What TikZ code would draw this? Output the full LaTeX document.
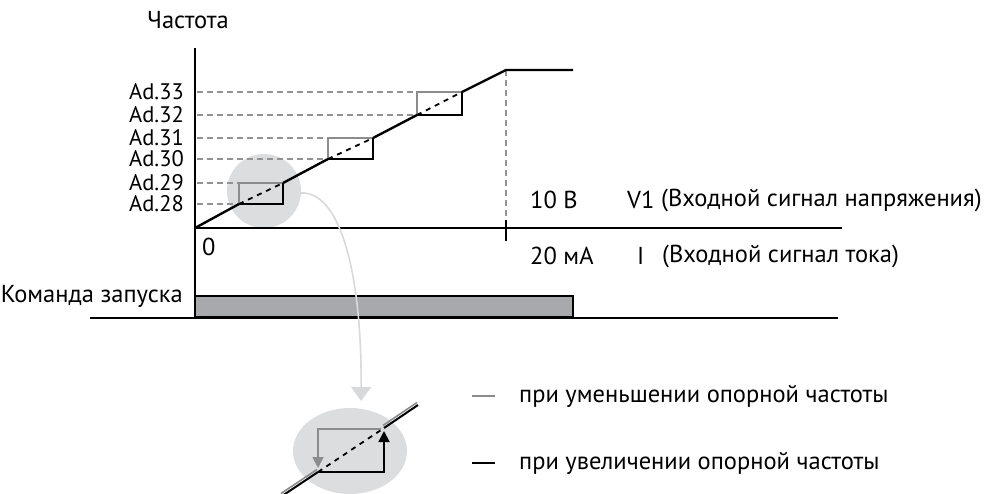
\documentclass[tikz,border=0pt]{standalone}
\usepackage{fontspec}
\setmainfont{PT Sans}
\usetikzlibrary{positioning, arrows.meta, calc, backgrounds}

\definecolor{boxgray}{HTML}{8A8C8E}
\definecolor{dashgray}{HTML}{909294}
\definecolor{halo}{HTML}{DCDDDF}
\definecolor{runfill}{HTML}{A7A9AC}
\definecolor{hintgray}{HTML}{D8D9DA}

\begin{document}
\begin{tikzpicture}[x=1pt, y=-1pt,
    every node/.style={font=\fontsize{24.5}{28}\selectfont, inner sep=0pt},
    axis/.style={draw, line width=2.6pt, black},
    ramp/.style={draw, line width=2.4pt, black},
    up/.style={draw, line width=1.8pt, black},
    down/.style={draw, line width=1.8pt, boxgray},
    guide/.style={draw, line width=1.4pt, dashgray, dash pattern=on 6pt off 4pt},
    inner/.style={draw, line width=1.8pt, black, dash pattern=on 5pt off 5pt},
    lvl/.style={anchor=east, font=\fontsize{22.5}{24}\selectfont},
    sig/.style={anchor=west}]

  \useasboundingbox (0,0) rectangle (992,493);

  % levels
  \def\yAa{204}
  \def\yAb{183}
  \def\yAc{159}
  \def\yAd{138}
  \def\yAe{115}
  \def\yAf{92}

  % halos
  \fill[halo] (264,191) circle (37);
  \fill[halo] (350,451) ellipse (57 and 43);

  % axes
  \coordinate (orig) at (195,228);
  \draw[axis] (195,48) -- (195,318);
  \draw[axis] (orig) -- (842,228);
  \draw[axis] (90,318) -- (838,318);

  \node (freq) at (188,20) {Частота};
  \node[anchor=west] (zero) at (202,247) {0};

  % level labels and guides
  \node[lvl] (ad28) at (184,\yAa) {Ad.28};
  \node[lvl] (ad29) at (184,\yAb) {Ad.29};
  \node[lvl] (ad30) at (184,\yAc) {Ad.30};
  \node[lvl] (ad31) at (184,\yAd) {Ad.31};
  \node[lvl] (ad32) at (184,\yAe) {Ad.32};
  \node[lvl] (ad33) at (184,\yAf) {Ad.33};

  \draw[guide] (197,\yAa) -- (239,\yAa);
  \draw[guide] (197,\yAb) -- (239,\yAb);
  \draw[guide] (197,\yAc) -- (328,\yAc);
  \draw[guide] (197,\yAd) -- (328,\yAd);
  \draw[guide] (197,\yAe) -- (417,\yAe);
  \draw[guide] (197,\yAf) -- (417,\yAf);
  \draw[guide] (506,70) -- (506,220);
  \draw[line width=1.4pt] (506,220) -- (506,241);

  % hysteresis boxes
  \foreach \xl/\xr/\yl/\yh in {239/283/\yAa/\yAb, 328/373/\yAc/\yAd, 417/462/\yAe/\yAf}{
    \draw[down] (\xl,\yl) -- (\xl,\yh) -- (\xr,\yh);
    \draw[up] (\xl,\yl) -- (\xr,\yl) -- (\xr,\yh);
    \draw[inner] (\xl,\yl) -- (\xr,\yh);
  }

  % reference ramp
  \draw[ramp] (orig) -- (239,\yAa);
  \draw[ramp] (283,\yAb) -- (328,\yAc);
  \draw[ramp] (373,\yAd) -- (417,\yAe);
  \draw[ramp, line join=round] (462,\yAf) -- (506,70) -- (573,70);

  % signal scale
  \node[sig] (v10) at (530,200) {10 В};
  \node[sig] (v1) at (627,200) {V1};
  \node[sig] (vtxt) at (661,200) {(Входной сигнал напряжения)};
  \node[sig] (i20) at (530,256) {20 мА};
  \node[sig] (ii) at (637,256) {I};
  \node[sig] (itxt) at (662,256) {(Входной сигнал тока)};

  % run command
  \draw[line width=1.8pt, fill=runfill] (195,296) rectangle (573,317);
  \draw[axis] (90,318) -- (838,318);
  \draw[axis] (195,228) -- (195,318);
  \node[anchor=east] (run) at (183,296) {Команда запуска};

  % zoom hint
  \draw[hintgray, line width=1.6pt, -{Triangle[width=20pt, length=14pt]}]
    (300,193) .. controls (342,190) and (362,280) .. (361,401);

  % detail
  \coordinate (p1) at (318,472);
  \coordinate (p2) at (384,428);
  \draw[boxgray, line width=1.6pt] ($(p1)+(-36,24)+(-1,-2.5)$) -- ($(p1)+(-1,-2.5)$);
  \draw[boxgray, line width=1.6pt] ($(p2)+(-1,-2.5)$) -- ($(p2)+(34,-23)+(-1,-2.5)$);
  \draw[line width=2pt] ($(p1)+(-36,24)$) -- (p1);
  \draw[line width=2pt] (p2) -- ($(p2)+(34,-23)$);
  \draw[inner] (p1) -- (p2);
  \draw[down, -{Triangle[width=11pt, length=11pt]}] (381,429) -- (318,429) -- (318,468);
  \draw[up, -{Triangle[width=11pt, length=11pt]}] (p1) -- (384,472) -- (384,431);

  % legend
  \draw[boxgray, line width=1.8pt] (472,396) -- (495,396);
  \node[sig] (dec) at (519,396) {при уменьшении опорной частоты};
  \draw[line width=1.8pt] (472,463) -- (495,463);
  \node[sig] (inc) at (519,463) {при увеличении опорной частоты};
\end{tikzpicture}
\end{document}
